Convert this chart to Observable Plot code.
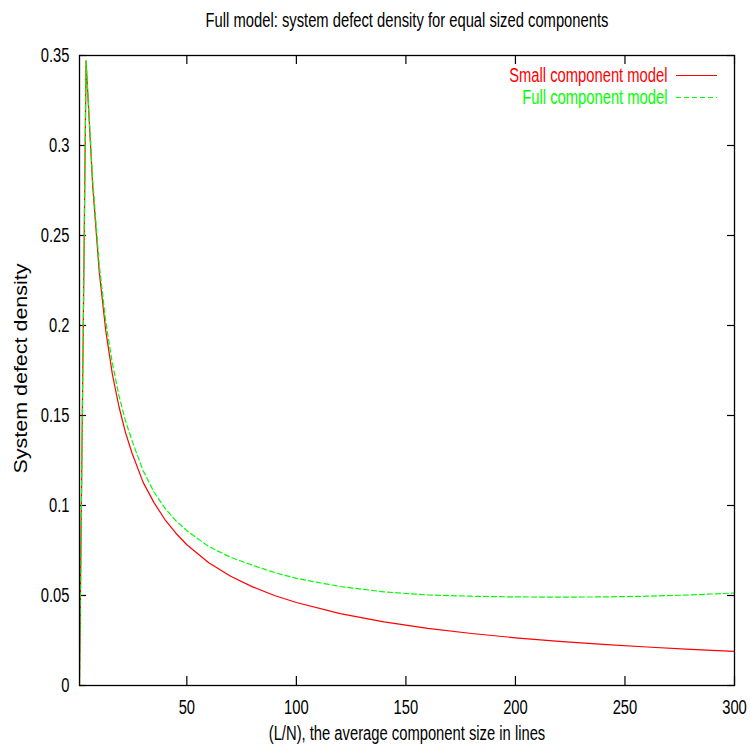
<!DOCTYPE html>
<html><head><meta charset="utf-8">
<script src="https://cdn.jsdelivr.net/npm/d3@7"></script>
<script src="https://cdn.jsdelivr.net/npm/@observablehq/plot@0.6"></script>
<style>body{margin:0;background:#fff} svg{display:block}</style>
</head><body><div id="chart"></div>
<script>
const titleText = "Full model: system defect density for equal sized components";
const xLabel = "(L/N), the average component size in lines";
const yLabel = "System defect density";
const seriesNames = ["Small component model", "Full component model"];
const sizes = [1,4,7,10,13,16,19,22,25,30,35,40,45,50,60,70,80,90,100,120,140,160,180,200,220,240,260,280,300];
const smallModel = [0,0.347,0.278,0.230,0.197,0.173,0.155,0.1405,0.129,0.113,0.1016,0.0922,0.0846,0.0782,0.0682,0.0607,0.0548,0.0500,0.0461,0.0399,0.0353,0.0317,0.0289,0.0265,0.0245,0.0228,0.0214,0.0201,0.0190];
const fullModel = [0,0.347,0.281,0.234,0.202,0.179,0.161,0.147,0.136,0.1195,0.1075,0.0985,0.0915,0.086,0.0772,0.0712,0.0668,0.0628,0.0595,0.0550,0.0520,0.0503,0.0496,0.0492,0.0491,0.0492,0.0496,0.0503,0.0514];
const xTicks = [50,100,150,200,250,300];
const yTicks = [0,0.05,0.1,0.15,0.2,0.25,0.3,0.35];
const xDomain = [1,300];
const yDomain = [0,0.35];

const W = 751, H = 754, mL = 79, mR = 17, mT = 55, mB = 69;
const pw = W - mL - mR, ph = H - mT - mB;
const small = sizes.map((x,i)=>({x, y: smallModel[i]}));
const full = sizes.map((x,i)=>({x, y: fullModel[i]}));
const RED = "#ff0000", GREEN = "#00ff00";
const font = "'Liberation Sans', Arial, sans-serif";
const FS = 20;

const chart = Plot.plot({
  width: W, height: H,
  marginLeft: mL, marginRight: mR, marginTop: mT, marginBottom: mB,
  style: {fontFamily: font, fontSize: FS + "px", background: "#fff", color: "#000"},
  x: {domain: xDomain, label: null},
  y: {domain: yDomain, label: null},
  marks: [
    Plot.ruleY(yTicks, {stroke: "#000", strokeWidth: 1.2, insetRight: pw - 7}),
    Plot.ruleY(yTicks, {stroke: "#000", strokeWidth: 1.2, insetLeft: pw - 7}),
    Plot.ruleX(xTicks, {stroke: "#000", strokeWidth: 1.2, insetTop: ph - 9}),
    Plot.ruleX(xTicks, {stroke: "#000", strokeWidth: 1.2, insetBottom: ph - 9}),
    Plot.axisX({ticks: xTicks, anchor: "bottom", tickSize: 0, tickPadding: 14, label: null, fontSize: FS}),
    Plot.axisY({ticks: yTicks, anchor: "left", tickSize: 0, tickPadding: 10, label: null, tickFormat: d => String(d), fontSize: FS}),
    Plot.line(small, {x: "x", y: "y", stroke: RED, strokeWidth: 1.2, clip: true}),
    Plot.line(full, {x: "x", y: "y", stroke: GREEN, strokeWidth: 1.2, strokeDasharray: "5,3", clip: true}),
    Plot.frame({stroke: "#000", strokeWidth: 1.3}),
    Plot.text([titleText], {text: d => d, frameAnchor: "top", textAnchor: "middle", lineAnchor: "middle", dy: -35, fontSize: FS, fill: "#000"}),
    Plot.text([xLabel], {text: d => d, frameAnchor: "bottom", textAnchor: "middle", lineAnchor: "middle", dy: 48, fontSize: FS, fill: "#000"}),
    Plot.text([yLabel], {text: d => d, frameAnchor: "left", textAnchor: "middle", lineAnchor: "middle", dx: -58, dy: -2, rotate: -90, fontSize: 18, fill: "#000"}),
    Plot.text([seriesNames[0]], {text: d => d, frameAnchor: "top-right", textAnchor: "end", lineAnchor: "middle", dx: -67, dy: 20, fontSize: FS, fill: RED}),
    Plot.text([seriesNames[1]], {text: d => d, frameAnchor: "top-right", textAnchor: "end", lineAnchor: "middle", dx: -67, dy: 42, fontSize: FS, fill: GREEN}),
    Plot.ruleY([yDomain[1]], {dy: 20, insetLeft: pw - 58, insetRight: 17, stroke: RED, strokeWidth: 1.2}),
    Plot.ruleY([yDomain[1]], {dy: 42, insetLeft: pw - 58, insetRight: 17, stroke: GREEN, strokeWidth: 1.2, strokeDasharray: "5,3"})
  ]
});
document.getElementById("chart").appendChild(chart);
// gnuplot's stretched rendering: tall, narrow glyphs
chart.querySelectorAll("text").forEach(t => {
  const len = t.getComputedTextLength();
  if (!len) return;
  const target = t.textContent === yLabel ? 210 : len * 0.82 * 18 / FS;
  t.setAttribute("textLength", target.toFixed(1));
  t.setAttribute("lengthAdjust", "spacingAndGlyphs");
});
</script>
</body></html>
